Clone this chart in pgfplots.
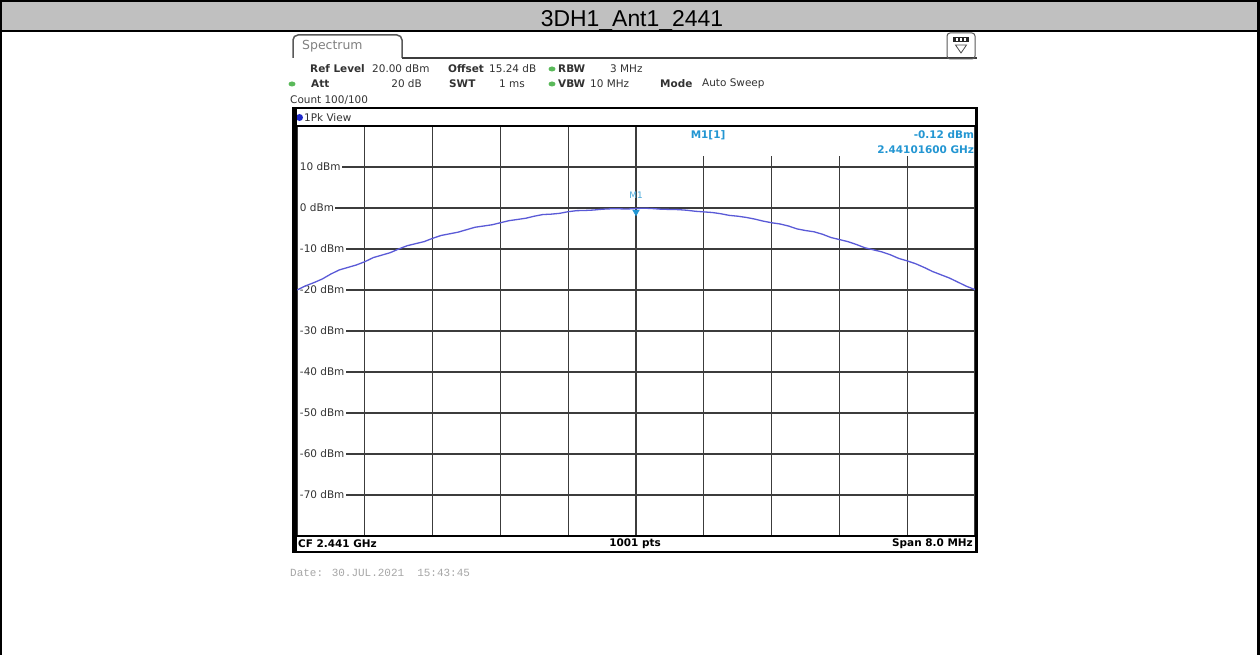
\documentclass[border=0pt]{standalone}
\usepackage{pgfplots}
\pgfplotsset{compat=1.18}
\usepackage{fontspec}
\setmainfont{DejaVu Sans}
\newfontfamily\titlefont{Liberation Sans}
\newfontfamily\datefont{Liberation Mono}
\definecolor{trace}{RGB}{90,90,215}
\definecolor{mk}{RGB}{35,150,210}
\definecolor{gridc}{RGB}{60,60,60}
\definecolor{txt}{RGB}{50,50,50}
\definecolor{led}{RGB}{90,185,90}
\definecolor{bar}{RGB}{192,192,192}
\definecolor{dotblue}{RGB}{30,40,200}
\newcommand{\hf}{\fontsize{10.5}{12}\selectfont}
\tikzset{ylab/.style={anchor=west, fill=white, inner sep=1.5bp, text=txt, font=\hf}}
\begin{document}
\begin{tikzpicture}[x=1bp,y=1bp]
\useasboundingbox (0,0) rectangle (1260,655);
\fill[white] (0,0) rectangle (1260,655);
% title bar
\fill[bar] (0,624) rectangle (1260,655);
\draw[black, line width=2bp] (0,624) -- (1260,624);
\draw[black, line width=2bp] (0,654) -- (1260,654);
\draw[black, line width=2.5bp] (1,0) -- (1,655);
\draw[black, line width=2.5bp] (1258.5,0) -- (1258.5,655);
\node[anchor=base, inner sep=0] at (632,628) {\titlefont\fontsize{23}{27}\selectfont 3DH1\_Ant1\_2441};
% spectrum tab
\draw[gridc!85, line width=1.5bp, rounded corners=5bp] (293,597) -- (293,620) -- (402,620) -- (402,597);
\draw[gridc, line width=2bp] (402,597) -- (977,597);
\node[anchor=west, inner sep=0, text=gray] at (302,609) {\fontsize{12.5}{14}\selectfont Spectrum};
% icon
\draw[gray!70!black, line width=1bp, rounded corners=3bp] (947,596) rectangle (975,622);
\fill[gray!30!black] (953,613) rectangle (969,618);
\fill[white] (956,614.3) rectangle (958,616.7);
\fill[white] (960,614.3) rectangle (962,616.7);
\fill[white] (964,614.3) rectangle (966,616.7);
\draw[gray!60!black, line width=0.8bp] (955.5,610) -- (966.5,610) -- (961,602) -- cycle;
% header texts
\node[anchor=west, inner sep=0, text=txt] at (310,586) {\hf\bfseries Ref Level};
\node[anchor=west, inner sep=0, text=txt] at (372,586) {\hf 20.00 dBm};
\node[anchor=west, inner sep=0, text=txt] at (448,586) {\hf\bfseries Offset};
\node[anchor=west, inner sep=0, text=txt] at (489,586) {\hf 15.24 dB};
\fill[led] (552,586) ellipse (3.5 and 2.5);
\node[anchor=west, inner sep=0, text=txt] at (558,586) {\hf\bfseries RBW};
\node[anchor=west, inner sep=0, text=txt] at (610,586) {\hf 3 MHz};
\fill[led] (292,571) ellipse (3.5 and 2.5);
\node[anchor=west, inner sep=0, text=txt] at (311,571) {\hf\bfseries Att};
\node[anchor=east, inner sep=0, text=txt] at (422,571) {\hf 20 dB};
\node[anchor=west, inner sep=0, text=txt] at (449,571) {\hf\bfseries SWT};
\node[anchor=east, inner sep=0, text=txt] at (525,571) {\hf 1 ms};
\fill[led] (552,571) ellipse (3.5 and 2.5);
\node[anchor=west, inner sep=0, text=txt] at (558,571) {\hf\bfseries VBW};
\node[anchor=west, inner sep=0, text=txt] at (590,571) {\hf 10 MHz};
\node[anchor=west, inner sep=0, text=txt] at (660,571) {\hf\bfseries Mode};
\node[anchor=west, inner sep=0, text=txt] at (702,571) {\hf Auto Sweep};
\node[anchor=west, inner sep=0, text=txt] at (290,555) {\hf Count 100/100};
% box background
\fill[white] (293,103) rectangle (977,547);
\fill[dotblue] (299.5,537.5) circle (3.5);
\node[anchor=west, inner sep=0, text=txt] at (304,537.5) {\hf 1Pk View};
\begin{axis}[
  at={(297bp,119bp)}, anchor=south west,
  scale only axis, width=678bp, height=410bp,
  xmin=-4, xmax=4, ymin=-80, ymax=20,
  xtick={-4,-3.2,-2.4,-1.6,-0.8,0,0.8,1.6,2.4,3.2,4},
  ytick={-80,-70,-60,-50,-40,-30,-20,-10,0,10,20},
  xticklabels={}, yticklabels={},
  major tick length=0pt,
  grid=major, grid style={gridc, line width=1.2bp},
  axis line style={draw=none},
  clip=false,
]
\fill[white] (axis cs:0.06,12.6) rectangle (axis cs:3.98,19.85);
\node[ylab] at (axis cs:-3.985,10) {10 dBm};
\node[ylab] at (axis cs:-3.985,0) {0 dBm};
\node[ylab] at (axis cs:-3.985,-10) {-10 dBm};
\node[ylab] at (axis cs:-3.985,-20) {-20 dBm};
\node[ylab] at (axis cs:-3.985,-30) {-30 dBm};
\node[ylab] at (axis cs:-3.985,-40) {-40 dBm};
\node[ylab] at (axis cs:-3.985,-50) {-50 dBm};
\node[ylab] at (axis cs:-3.985,-60) {-60 dBm};
\node[ylab] at (axis cs:-3.985,-70) {-70 dBm};
\addplot[trace, line width=1.3bp] coordinates {
(-4.0,-20.0) (-3.9,-19.0) (-3.8,-18.2) (-3.7,-17.3) (-3.6,-16.1) (-3.5,-15.1)
(-3.4,-14.5) (-3.3,-13.9) (-3.2,-13.1) (-3.1,-12.1) (-3.0,-11.5) (-2.9,-10.9)
(-2.8,-10.0) (-2.7,-9.2) (-2.6,-8.7) (-2.5,-8.2) (-2.4,-7.4) (-2.3,-6.7)
(-2.2,-6.3) (-2.1,-5.9) (-2.0,-5.3) (-1.9,-4.7) (-1.8,-4.4) (-1.7,-4.1)
(-1.6,-3.6) (-1.5,-3.1) (-1.4,-2.8) (-1.3,-2.5) (-1.2,-2.0) (-1.1,-1.6)
(-1.0,-1.5) (-0.9,-1.3) (-0.8,-0.9) (-0.7,-0.65) (-0.6,-0.6) (-0.5,-0.5)
(-0.4,-0.3) (-0.3,-0.2) (-0.2,-0.2) (-0.1,-0.25) (0,-0.12) (0.1,-0.05)
(0.2,-0.15) (0.3,-0.3) (0.4,-0.35) (0.5,-0.4) (0.6,-0.55) (0.7,-0.8)
(0.8,-0.95) (0.9,-1.1) (1.0,-1.4) (1.1,-1.8) (1.2,-2.0) (1.3,-2.3)
(1.4,-2.7) (1.5,-3.2) (1.6,-3.6) (1.7,-3.9) (1.8,-4.4) (1.9,-5.1)
(2.0,-5.5) (2.1,-5.8) (2.2,-6.4) (2.3,-7.2) (2.4,-7.7) (2.5,-8.2)
(2.6,-8.9) (2.7,-9.7) (2.8,-10.2) (2.9,-10.7) (3.0,-11.4) (3.1,-12.3)
(3.2,-12.9) (3.3,-13.6) (3.4,-14.5) (3.5,-15.5) (3.6,-16.3) (3.7,-17.1)
(3.8,-18.1) (3.9,-19.1) (4.0,-19.9)
};
\addplot[only marks, mark=triangle*, mark size=3.8bp,
  mark options={rotate=180, fill=mk, draw=mk, yshift=3.5bp}] coordinates {(0,-0.12)};
\node[text=mk!80, inner sep=0] at (axis cs:0,3.2) {\fontsize{9}{10}\selectfont M1};
\node[text=mk, inner sep=0] at (axis cs:0.85,17.8) {\hf\bfseries M1[1]};
\node[text=mk, inner sep=0, anchor=east] at (axis cs:3.99,17.8) {\hf\bfseries -0.12 dBm};
\node[text=mk, inner sep=0, anchor=east] at (axis cs:3.99,14.1) {\hf\bfseries 2.44101600 GHz};
\end{axis}
% box frame
\draw[black, line width=1.5bp] (293,103) rectangle (977,547);
\draw[black, line width=1.5bp] (293,529) -- (977,529);
\draw[black, line width=1.5bp] (293,119) -- (977,119);
\draw[black, line width=3.5bp] (295,103) -- (295,547);
\draw[black, line width=3bp] (976,103) -- (976,547);
\draw[black, line width=2bp] (293,103) -- (977,103);
% bottom bar
\node[anchor=west, inner sep=0, text=black] at (298,111) {\hf\bfseries CF 2.441 GHz};
\node[inner sep=0, text=black] at (635,111) {\hf\bfseries 1001 pts};
\node[anchor=east, inner sep=0, text=black] at (973,111) {\hf\bfseries Span 8.0 MHz};
% date
\node[anchor=west, inner sep=0, text=gray!70] at (290,82) {\datefont\fontsize{11}{12}\selectfont Date: 30.JUL.2021\ \ 15:43:45};
\end{tikzpicture}
\end{document}
